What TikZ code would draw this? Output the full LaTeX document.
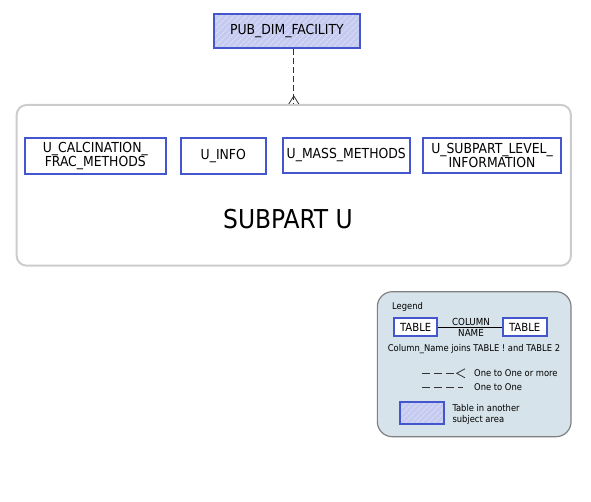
\documentclass[tikz,border=0pt]{standalone}
\usepackage{fontspec}
\setmainfont{DejaVu Sans Condensed}
\usetikzlibrary{patterns.meta,calc}
\definecolor{tblblue}{RGB}{68,86,206}
\definecolor{hatchfill}{RGB}{197,202,240}
\definecolor{areagray}{RGB}{204,204,204}
\definecolor{legendfill}{RGB}{214,227,234}
\definecolor{legendline}{RGB}{128,128,128}
\definecolor{linkgray}{RGB}{51,51,51}

\begin{document}
\begin{tikzpicture}[x=1pt, y=-1pt,
		tbl/.style={draw=tblblue, line width=2pt, fill=white, inner sep=0pt, align=center, font=\fontsize{13.8}{14}\selectfont},
		other/.style={fill=none, preaction={fill=hatchfill}, preaction={pattern={Lines[angle=45, distance=4pt, line width=1pt]}, pattern color=white!35!hatchfill}},
		link/.style={draw=linkgray, line width=1pt, dash pattern=on 6pt off 3pt},
		leglink/.style={draw=linkgray, line width=0.8pt, dash pattern=on 8pt off 4pt},
		crow/.style={draw=linkgray, line width=0.8pt},
		legtxt/.style={font=\fontsize{9.3}{11}\selectfont, inner sep=0pt}]
				\useasboundingbox (0,0) rectangle (591,501);
				\node[tbl, other, minimum width=146.3pt, minimum height=33.7pt] (FAC)at(286.9, 30.9) {PUB\_DIM\_FACILITY};
				\node[draw=areagray, line width=2pt, rounded corners=10pt, minimum width=554.3pt, minimum height=160.7pt] (U)at(293.8, 185.3) {};
				\node[font=\fontsize{26}{30}\selectfont] (UT)at(288, 219) {SUBPART U};
				\node[tbl, minimum width=141.3pt, minimum height=36.3pt] (U1)at(95.3, 155.8) {U\_CALCINATION\_\\FRAC\_METHODS};
				\node[tbl, minimum width=85.3pt, minimum height=36.3pt] (U2)at(223.3, 155.8) {U\_INFO};
				\node[tbl, minimum width=127.3pt, minimum height=35pt] (U3)at(346.3, 155.2) {U\_MASS\_METHODS};
				\node[tbl, minimum width=138.6pt, minimum height=35pt] (U4)at(492, 155.2) {U\_SUBPART\_LEVEL\_\\INFORMATION};
				\draw[link] (FAC.south -| U.north) -- (U.north);
				\draw[crow] ($(U.north)+(-5,0)$) -- ($(U.north)+(0,-8)$) -- ($(U.north)+(5,0)$);
				% legend
				\node[draw=legendline, line width=1.2pt, fill=legendfill, rounded corners=15pt, minimum width=193.7pt, minimum height=145pt] (L)at(474.2, 364.2) {};
				\node[legtxt, anchor=west] (LT)at(392, 307) {Legend};
				\node[tbl, line width=1.8pt, font=\fontsize{11.2}{12}\selectfont, minimum width=43.3pt, minimum height=17.7pt] (TA)at(415.7, 327.2) {TABLE};
				\node[tbl, line width=1.8pt, font=\fontsize{11.2}{12}\selectfont, minimum width=44pt, minimum height=17.7pt] (TB)at(524.7, 327.2) {TABLE};
				\draw[line width=0.8pt] (TA.east) -- (TB.west);
				\node[legtxt, font=\fontsize{9.7}{11}\selectfont, anchor=south] (CN)at(471, 326) {COLUMN};
				\node[legtxt, font=\fontsize{9.7}{11}\selectfont, anchor=north] (NM)at(471, 329) {NAME};
				\node[legtxt] (JN)at(474, 349.3) {Column\_Name joins TABLE ! and TABLE 2};
				\coordinate (M1) at (422, 373.3);
				\coordinate (M2) at (456.7, 373.3);
				\coordinate (M3) at (465, 373.3);
				\draw[leglink] (M1) -- (M2);
				\draw[crow] ($(M3)+(0,-4.5)$) -- (M2) -- ($(M3)+(0,4.5)$);
				\node[legtxt, anchor=west] (MR)at(474, 373.3) {One to One or more};
				\coordinate (O1) at (422, 387.3);
				\coordinate (O2) at (463, 387.3);
				\draw[leglink] (O1) -- (O2);
				\node[legtxt, anchor=west] (OO)at(474, 387.3) {One to One};
				\node[tbl, other, minimum width=44pt, minimum height=22pt] (HB)at(422, 413.3) {};
				\node[legtxt, anchor=west, align=left] (HT)at(452.3, 414.5) {Table in another\\subject area};
			\end{tikzpicture}
\end{document}
